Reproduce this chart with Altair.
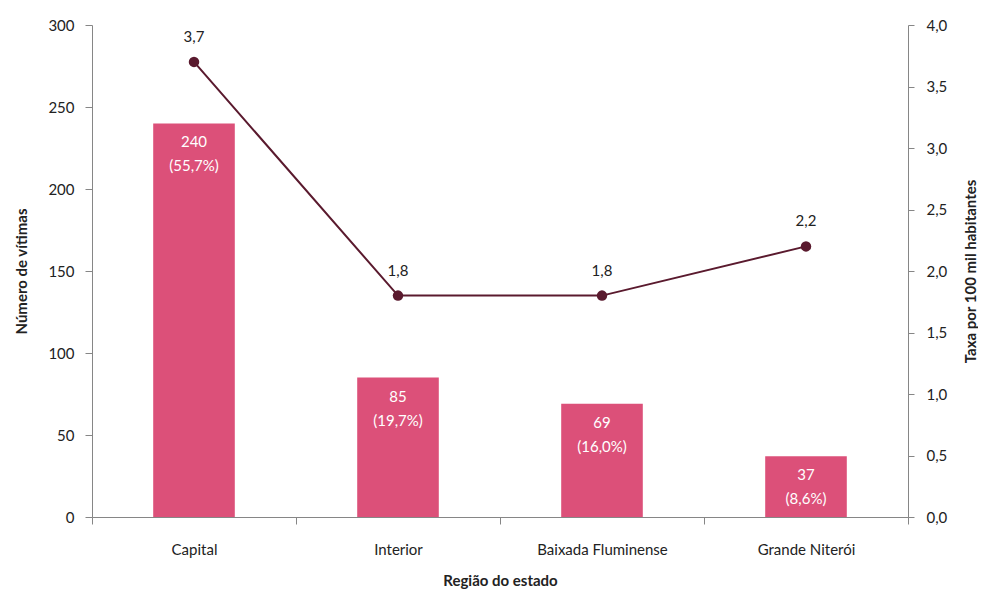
import altair as alt
import pandas as pd

regioes = ["Capital", "Interior", "Baixada Fluminense", "Grande Niterói"]
vitimas = [240, 85, 69, 37]
percentuais = ["55,7%", "19,7%", "16,0%", "8,6%"]
taxas = [3.7, 1.8, 1.8, 2.2]

df = pd.DataFrame({
    "regiao": regioes,
    "vitimas": vitimas,
    "pct": percentuais,
    "taxa": taxas,
})
df["rotulo_bar"] = [f"{v}\n({p})" for v, p in zip(vitimas, percentuais)]
df["rotulo_taxa"] = [f"{t:.1f}".replace(".", ",") for t in taxas]

FONT = "Lato"
BAR = "#DC5079"
LINE = "#5A1A2E"
AX = "#868686"

x = alt.X(
    "regiao:N", sort=regioes, title="Região do estado",
    scale=alt.Scale(paddingInner=0, paddingOuter=0),
    axis=alt.Axis(labelAngle=0, tickBand="extent", tickSize=7, labelPadding=18,
                  titlePadding=16, domainColor=AX, tickColor=AX),
)

base_left = alt.Chart(df).encode(
    x=x,
    y=alt.Y("vitimas:Q", title="Número de vítimas",
            scale=alt.Scale(domain=[0, 300]),
            axis=alt.Axis(values=[0, 50, 100, 150, 200, 250, 300], tickSize=7,
                          labelPadding=11, titlePadding=18, grid=False,
                          domainColor=AX, tickColor=AX)),
)
bars = base_left.mark_bar(color=BAR, width=alt.RelativeBandSize(0.4))
bar_text = base_left.mark_text(
    color="white", baseline="top", dy=12, fontSize=15, lineBreak="\n",
    lineHeight=24, font=FONT,
).encode(text="rotulo_bar:N")
left = alt.layer(bars, bar_text)

base_right = alt.Chart(df).encode(
    x=x,
    y=alt.Y("taxa:Q", title="Taxa por 100 mil habitantes",
            scale=alt.Scale(domain=[0, 4]),
            axis=alt.Axis(orient="right", values=[0, 0.5, 1, 1.5, 2, 2.5, 3, 3.5, 4],
                          labelExpr="replace(format(datum.value, '.1f'), '.', ',')",
                          tickSize=6, labelPadding=12, titlePadding=32, grid=False,
                          titleAngle=270,
                          domainColor=AX, tickColor=AX)),
)
line = base_right.mark_line(color=LINE, strokeWidth=2)
pts = base_right.mark_point(color=LINE, filled=True, size=110, opacity=1)
line_text = base_right.mark_text(
    color="#222222", baseline="middle", dy=-25, fontSize=15, font=FONT,
).encode(text="rotulo_taxa:N")
right = alt.layer(line, pts, line_text)

chart = alt.layer(left, right).resolve_scale(y="independent").properties(
    width=816, height=492,
    autosize=alt.AutoSizeParams(type="none"),
    padding={"left": 84, "top": 17, "right": 70, "bottom": 72},
).configure_view(stroke=None).configure_axis(
    labelFont=FONT, titleFont=FONT, labelFontSize=15, titleFontSize=15,
    labelColor="#222222", titleColor="#222222", titleFontWeight="bold",
)

chart.save("out.html", embed_options={"renderer": "svg", "actions": False})
